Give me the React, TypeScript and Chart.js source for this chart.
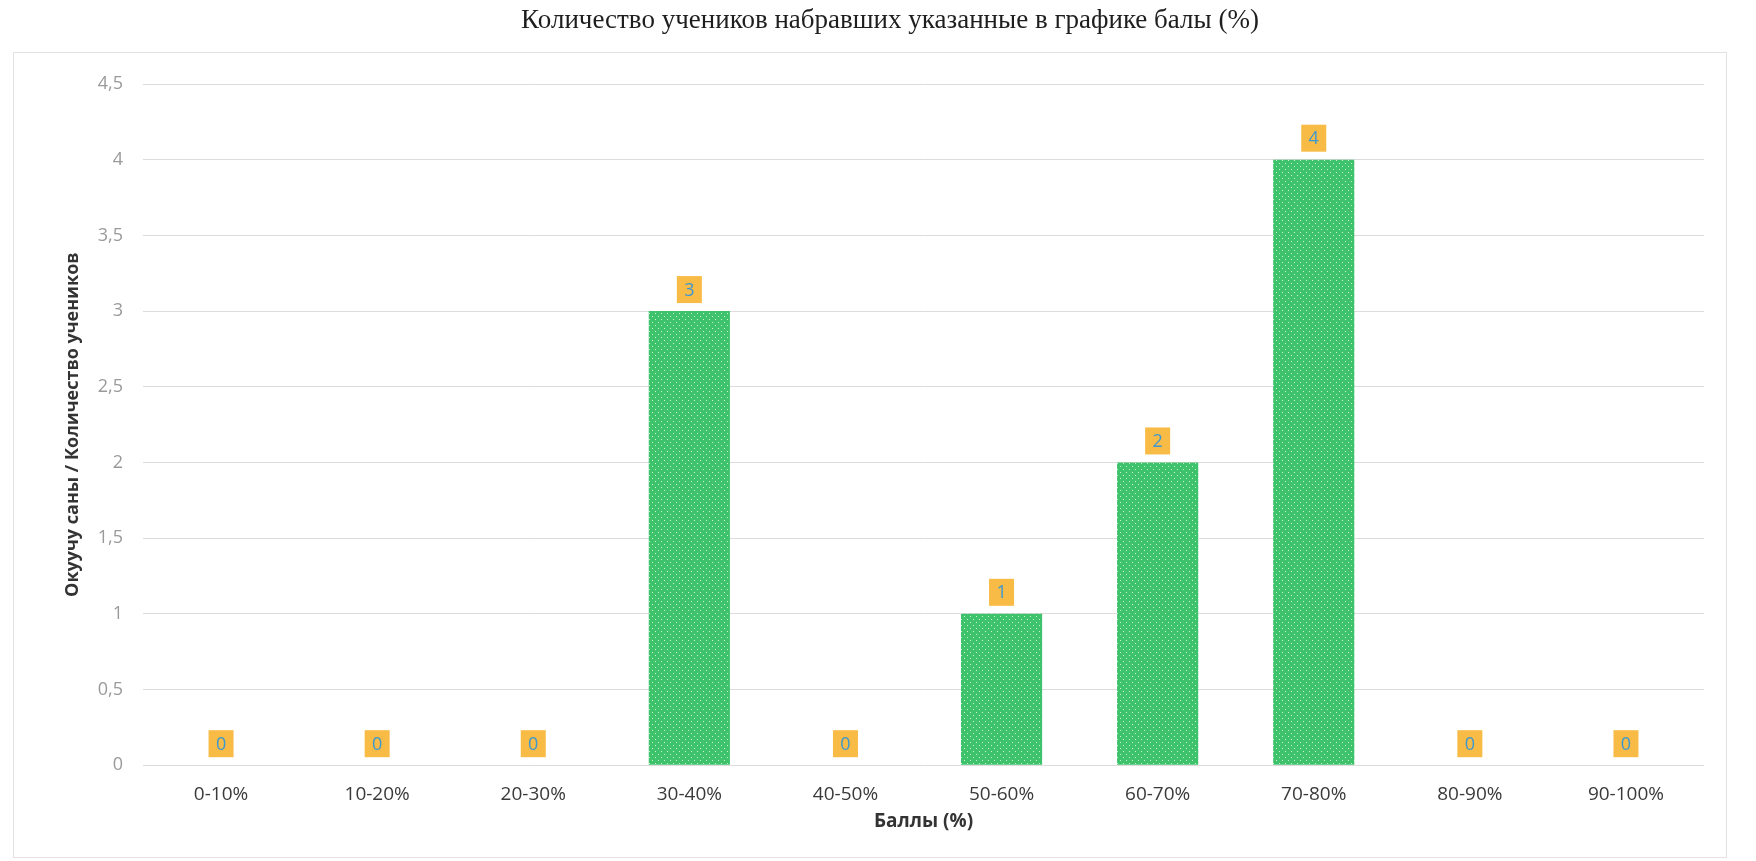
import React, { useEffect, useRef } from "react";
import { Chart, registerables } from "chart.js";

Chart.register(...registerables);

const categories = ["0-10%", "10-20%", "20-30%", "30-40%", "40-50%", "50-60%", "60-70%", "70-80%", "80-90%", "90-100%"];
const counts = [0, 0, 0, 3, 0, 1, 2, 4, 0, 0];
const titleText = "Количество учеников набравших указанные в графике балы (%)";
const yTitle = "Окуучу саны / Количество учеников";
const xTitle = "Баллы (%)";

const SANS = "'Open Sans', sans-serif";

function makePattern(ctx: CanvasRenderingContext2D) {
  const c = document.createElement("canvas");
  c.width = 6;
  c.height = 6;
  const p = c.getContext("2d")!;
  p.fillStyle = "#3ec36c";
  p.fillRect(0, 0, 6, 6);
  p.fillStyle = "rgba(225,255,225,0.85)";
  p.fillRect(1, 1, 1, 1);
  p.fillRect(4, 4, 1, 1);
  return ctx.createPattern(c, "repeat")!;
}

const labelPlugin = {
  id: "boxLabels",
  afterDatasetsDraw(chart: any) {
    const ctx = chart.ctx;
    const meta = chart.getDatasetMeta(0);
    ctx.save();
    meta.data.forEach((bar: any, i: number) => {
      const v = counts[i];
      const w = 25;
      const h = 27;
      const x = bar.x - w / 2;
      const y = bar.y - 8 - h;
      ctx.fillStyle = "#f8bb46";
      ctx.fillRect(x, y, w, h);
      ctx.fillStyle = "#3f98cf";
      ctx.font = "18px " + SANS;
      ctx.textAlign = "center";
      ctx.textBaseline = "middle";
      ctx.fillText(String(v), bar.x, y + h / 2 + 1);
    });
    ctx.restore();
  },
};

const titlePlugin = {
  id: "manualTitles",
  afterDraw(chart: any) {
    const ctx = chart.ctx;
    const area = chart.chartArea;
    ctx.save();
    ctx.fillStyle = "#1e1e1e";
    ctx.font = "27px 'Liberation Serif', serif";
    ctx.textAlign = "center";
    ctx.textBaseline = "middle";
    ctx.fillText(titleText, 890, 21);
    ctx.fillStyle = "#333";
    ctx.font = "bold 19px " + SANS;
    ctx.fillText(xTitle, (area.left + area.right) / 2, area.bottom + 56);
    ctx.restore();
  },
};

export default function App() {
  const ref = useRef<HTMLCanvasElement>(null);
  useEffect(() => {
    const canvas = ref.current!;
    const ctx = canvas.getContext("2d")!;
    const chart = new Chart(canvas, {
      type: "bar",
      data: {
        labels: categories,
        datasets: [
          {
            data: counts,
            backgroundColor: makePattern(ctx),
            barPercentage: 0.52,
            categoryPercentage: 1,
          },
        ],
      },
      options: {
        animation: false,
        responsive: false,
        maintainAspectRatio: false,
        layout: { padding: { left: 58, right: 52, top: 84, bottom: 45 } },
        plugins: {
          legend: { display: false },
          tooltip: { enabled: false },
          title: { display: false },
        },
        scales: {
          x: {
            grid: { display: false },
            border: { display: false },
            ticks: { color: "#3a3a3a", font: { family: SANS, size: 19 }, padding: 10, maxRotation: 0 },
          },
          y: {
            min: 0,
            max: 4.5,
            afterFit: (s: any) => {
              s.width = 143 - 58;
            },
            ticks: {
              stepSize: 0.5,
              color: "#9a9a9a",
              padding: 20,
              font: { family: SANS, size: 18 },
              callback: (v: any) => String(v).replace(".", ","),
            },
            grid: { color: "#dcdcdc", drawTicks: false },
            border: { display: false },
            title: { display: true, text: yTitle, color: "#333", font: { family: SANS, size: 18, weight: "bold" }, padding: { top: 4, bottom: 4 } },
          },
        },
      },
      plugins: [labelPlugin, titlePlugin],
    });
    return () => chart.destroy();
  }, []);
  return (
    <div style={{ position: "absolute", left: 0, top: 0, width: 1756, height: 861, background: "#fff" }}>
      <div style={{ position: "absolute", left: 13, top: 52, width: 1712, height: 804, border: "1px solid #e2e2e2" }} />
      <canvas ref={ref} width={1756} height={861} style={{ position: "absolute", left: 0, top: 0, width: 1756, height: 861 }} />
    </div>
  );
}
